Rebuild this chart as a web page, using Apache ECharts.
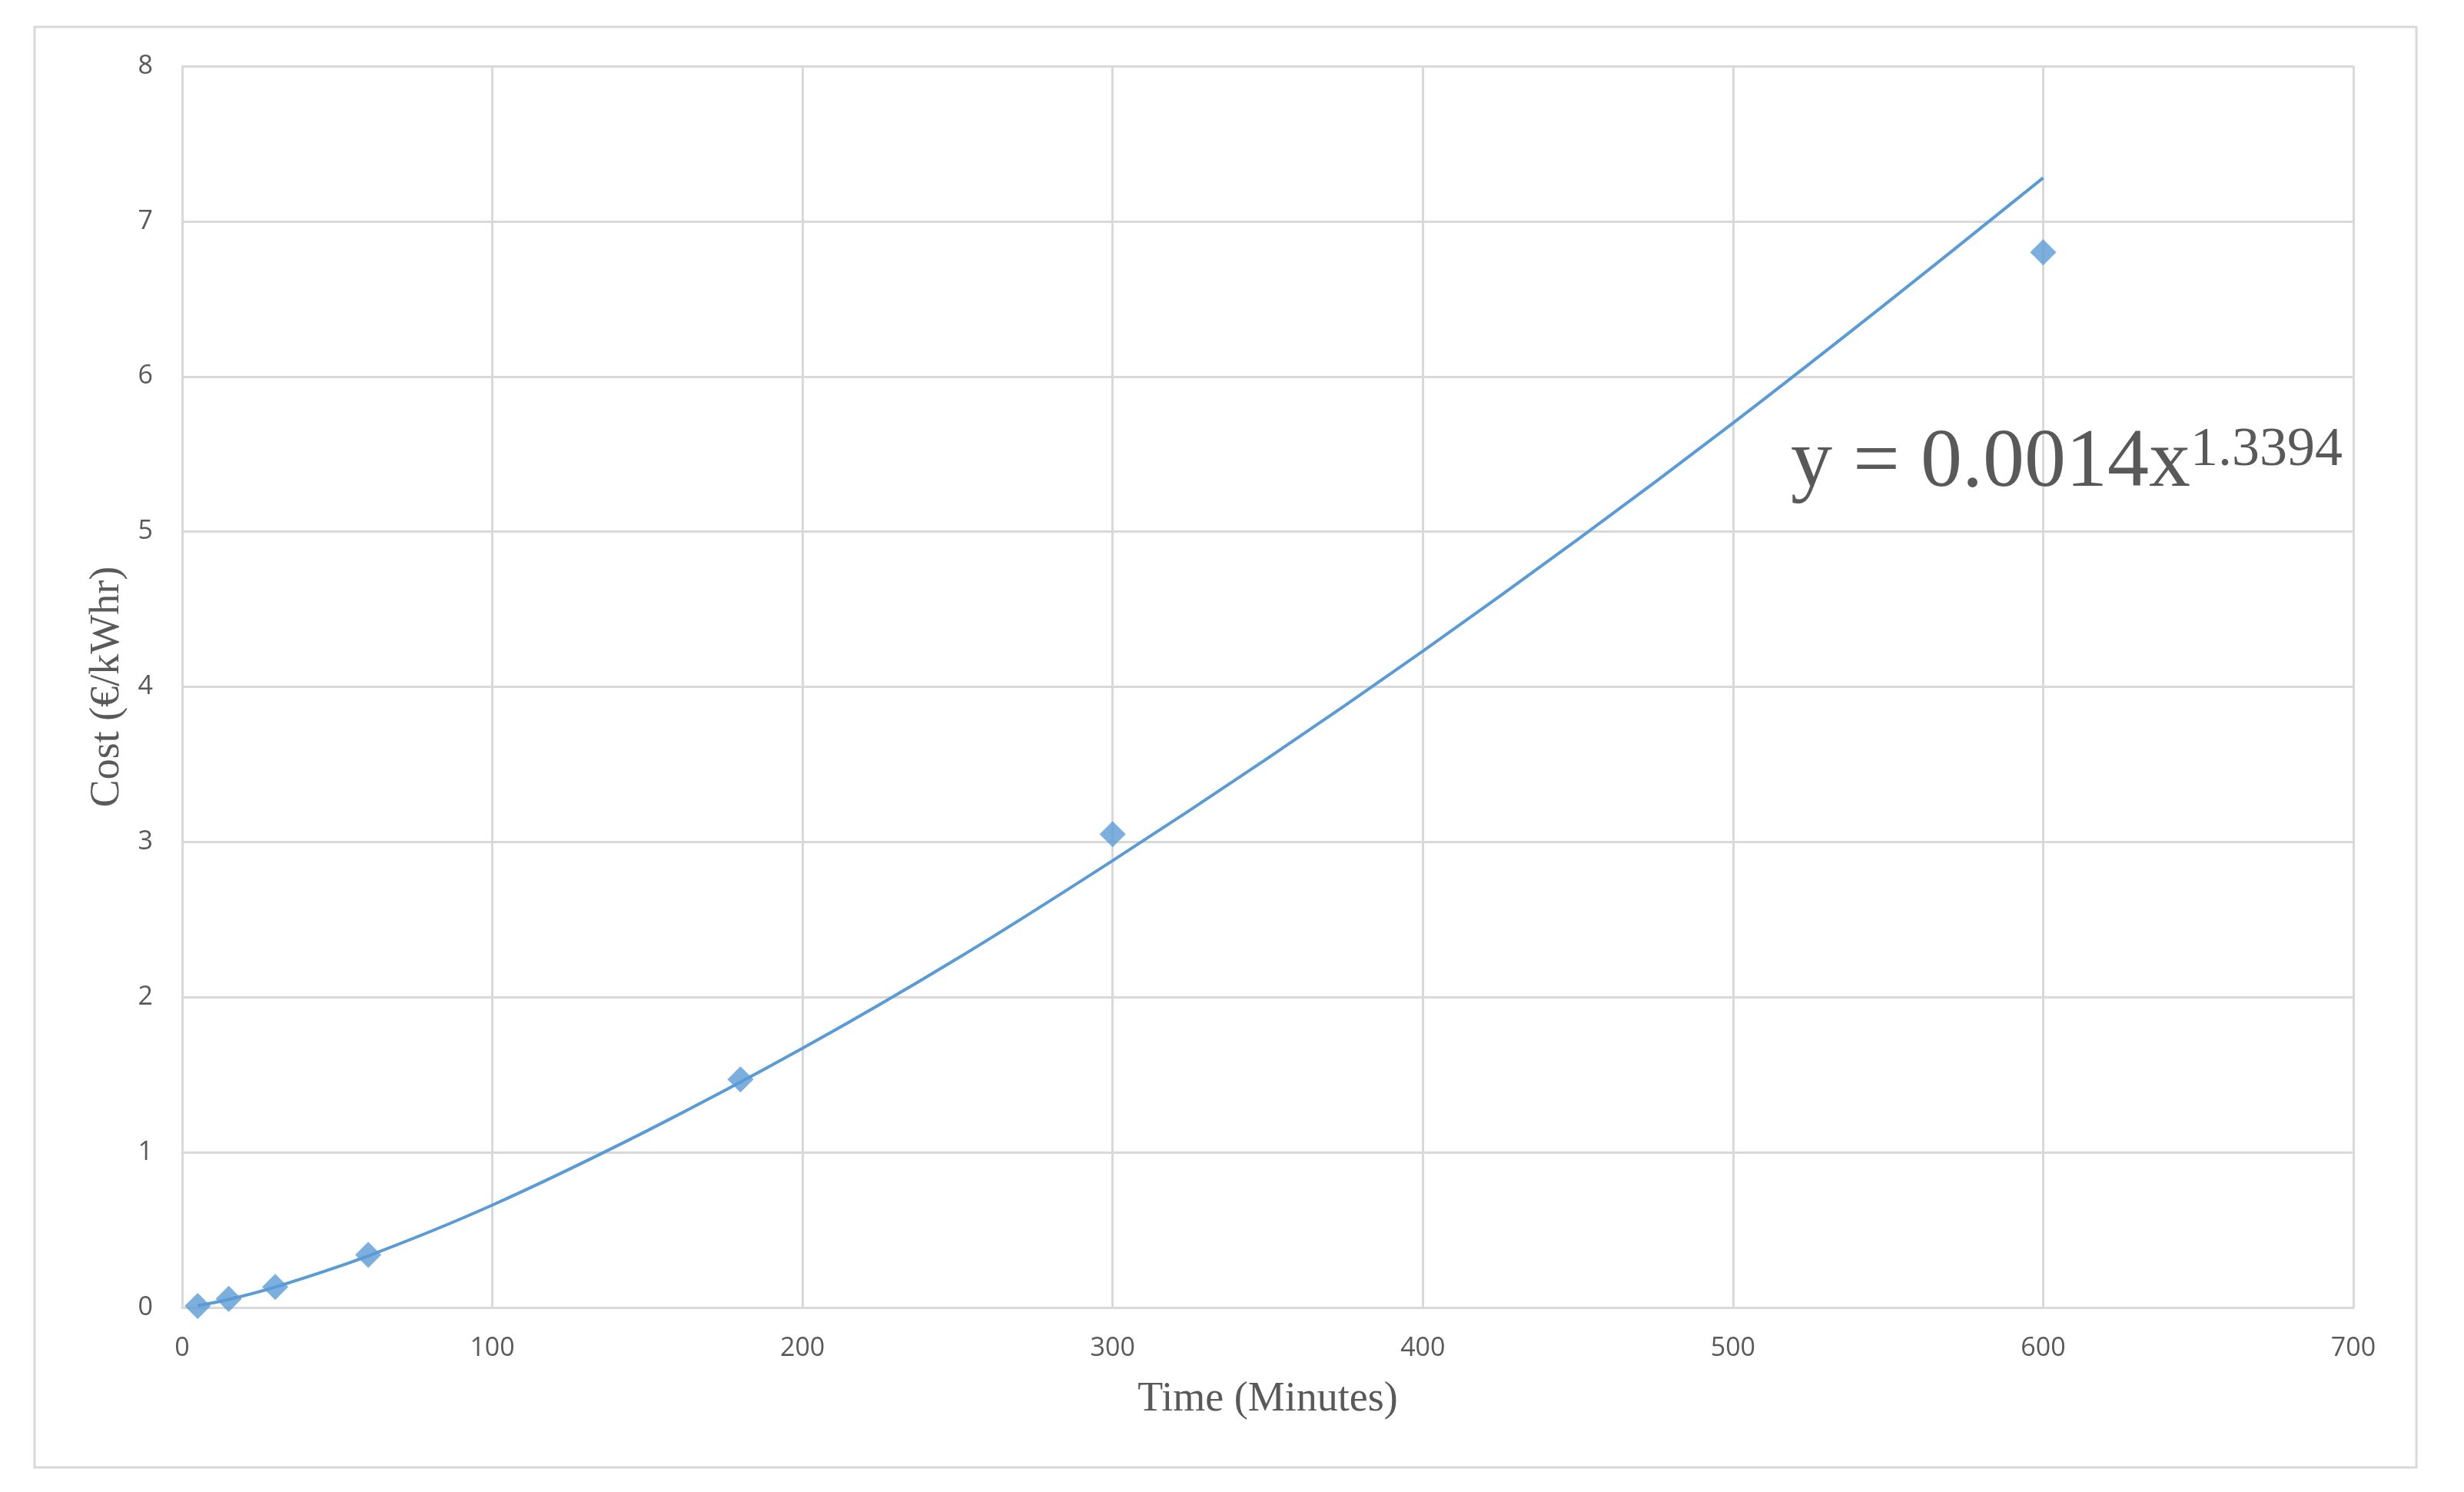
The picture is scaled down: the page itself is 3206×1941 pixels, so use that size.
<!DOCTYPE html>
<html>
<head>
<meta charset="utf-8">
<script src="https://cdn.jsdelivr.net/npm/echarts@6/dist/echarts.min.js"></script>
<style>
html,body{margin:0;padding:0;background:#fff;}
#chart{width:3206px;height:1941px;}
</style>
</head>
<body>
<div id="chart"></div>
<script>
// Observed data points (time in minutes, cost in €/kWhr)
var timeMinutes = [5, 15, 30, 60, 180, 300, 600];
var costValues = [0.01, 0.056, 0.132, 0.339, 1.47, 3.05, 6.8];

// Power trendline
var trendX = [5, 15, 30, 60, 100, 150, 200, 250, 300, 350, 400, 450, 500, 550, 600];
var trendY = [0.012, 0.052, 0.132, 0.333, 0.66, 1.14, 1.67, 2.25, 2.88, 3.54, 4.23, 4.95, 5.70, 6.48, 7.28];

var equationMain = 'y = 0.0014x';
var equationExp = '1.3394';
var xTitle = 'Time (Minutes)';
var yTitle = 'Cost (€/kWhr)';

var pts = timeMinutes.map(function (t, i) { return [t, costValues[i]]; });
var trend = trendX.map(function (t, i) { return [t, trendY[i]]; });

var gridColor = '#D9D9D9';
var textColor = '#595959';
var blue = '#5B9BD5';

var chart = echarts.init(document.getElementById('chart'), null, {renderer: 'canvas'});
chart.setOption({
  backgroundColor: '#ffffff',
  animation: false,
  grid: {left: 237, top: 86, right: 144, bottom: 240, containLabel: false},
  xAxis: {
    type: 'value', min: 0, max: 700, interval: 100,
    name: xTitle, nameLocation: 'middle', nameGap: 93,
    nameTextStyle: {fontFamily: 'Liberation Serif', fontSize: 54, color: textColor},
    axisLine: {show: true, lineStyle: {color: gridColor, width: 3}},
    axisTick: {show: false},
    axisLabel: {margin: 36, fontFamily: 'Open Sans', fontSize: 34, color: textColor},
    splitLine: {show: true, lineStyle: {color: gridColor, width: 3}}
  },
  yAxis: {
    type: 'value', min: 0, max: 8, interval: 1,
    name: yTitle, nameLocation: 'middle', nameGap: 70, nameRotate: 90,
    nameTextStyle: {fontFamily: 'Liberation Serif', fontSize: 54, color: textColor},
    axisLine: {show: true, lineStyle: {color: gridColor, width: 3}},
    axisTick: {show: false},
    axisLabel: {margin: 38, fontFamily: 'Open Sans', fontSize: 34, color: textColor},
    splitLine: {show: true, lineStyle: {color: gridColor, width: 3}}
  },
  series: [
    {
      type: 'line', data: trend, smooth: 0.35, showSymbol: false,
      lineStyle: {color: blue, width: 4}, z: 2
    },
    {
      type: 'scatter', data: pts, symbol: 'diamond', symbolSize: 34,
      itemStyle: {color: blue}, z: 3
    }
  ],
  graphic: [
    {
      type: 'rect', silent: true, z: -1,
      shape: {x: 45, y: 35, width: 3099, height: 1874},
      style: {fill: 'none', stroke: gridColor, lineWidth: 3}
    },
    {
      type: 'text', z: 10, x: 2330, y: 550,
      style: {
        text: '{a|' + equationMain + '}{b|' + equationExp + '}',
        verticalAlign: 'top',
        fill: textColor,
        rich: {
          a: {fontFamily: 'Liberation Serif', fontSize: 108, lineHeight: 108, fill: textColor, color: textColor},
          b: {fontFamily: 'Liberation Serif', fontSize: 72, lineHeight: 72, verticalAlign: 'top', fill: textColor, color: textColor}
        }
      }
    }
  ]
});
</script>
</body>
</html>
